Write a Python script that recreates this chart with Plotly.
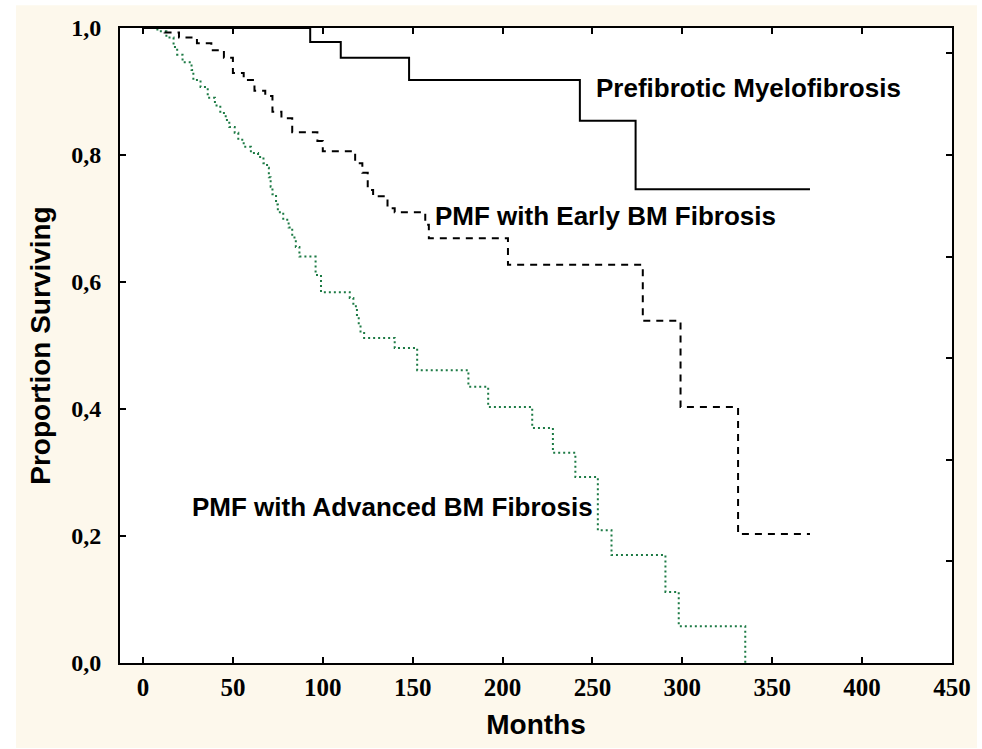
import plotly.graph_objects as go

# ---- data (months, proportion surviving after each step) ----
prefib_months = [0, 93, 110, 148, 243, 274, 371]
prefib_surv   = [1.0, 0.978, 0.953, 0.918, 0.854, 0.746, 0.746]

early_months = [0, 12, 20, 30, 38, 45, 50, 56, 62, 68, 72, 77, 83, 97, 100,
                118, 122, 125, 128, 136, 140, 157, 159, 203, 278, 299, 331, 371]
early_surv   = [1.0, 0.993, 0.985, 0.976, 0.965, 0.953, 0.929, 0.918, 0.901, 0.893,
                0.868, 0.858, 0.836, 0.822, 0.806, 0.787, 0.772, 0.745, 0.735, 0.716,
                0.71, 0.69, 0.669, 0.627, 0.539, 0.403, 0.203, 0.203]

adv_months = [0, 8, 13, 17, 19, 22, 27, 28, 32, 36, 40, 43, 46, 48, 51, 53, 56, 60,
              64, 67, 69, 70, 71, 72, 74, 75, 78, 81, 83, 85, 87, 96, 99, 115, 117,
              119, 120, 121, 123, 140, 152.5, 181, 192, 216.5, 228, 240.5, 253, 260.6,
              290.6, 298, 335]
adv_surv   = [1.0, 0.995, 0.985, 0.97, 0.958, 0.946, 0.934, 0.918, 0.907, 0.89, 0.878,
              0.866, 0.855, 0.844, 0.835, 0.824, 0.813, 0.803, 0.797, 0.787, 0.78, 0.765,
              0.75, 0.738, 0.722, 0.71, 0.698, 0.686, 0.67, 0.655, 0.64, 0.611, 0.584,
              0.575, 0.562, 0.548, 0.535, 0.522, 0.512, 0.496, 0.461, 0.435, 0.403, 0.37,
              0.331, 0.293, 0.209, 0.17, 0.112, 0.058, 0.0]

x_ticks = [0, 50, 100, 150, 200, 250, 300, 350, 400, 450]
y_ticks = [0.0, 0.2, 0.4, 0.6, 0.8, 1.0]

labels = ["Prefibrotic Myelofibrosis", "PMF with Early BM Fibrosis",
          "PMF with Advanced BM Fibrosis"]
label_x = [250.6, 161.5, 26.2]
label_y = [0.906, 0.704, 0.246]

cream = "#fdf8ec"

fig = go.Figure()
fig.add_trace(go.Scatter(x=adv_months, y=adv_surv, mode="lines", line_shape="hv",
                         line=dict(color="#1c7a44", width=2, dash="2px,3px"),
                         showlegend=False, hoverinfo="skip"))
fig.add_trace(go.Scatter(x=early_months, y=early_surv, mode="lines", line_shape="hv",
                         line=dict(color="black", width=2, dash="7px,6px"),
                         showlegend=False, hoverinfo="skip"))
fig.add_trace(go.Scatter(x=prefib_months, y=prefib_surv, mode="lines", line_shape="hv",
                         line=dict(color="black", width=2),
                         showlegend=False, hoverinfo="skip"))
# invisible trace so the right-hand tick axis is drawn
fig.add_trace(go.Scatter(x=[None], y=[None], yaxis="y2", showlegend=False,
                         hoverinfo="skip"))

for t, lx, ly in zip(labels, label_x, label_y):
    fig.add_annotation(x=lx, y=ly, text=t, showarrow=False, xanchor="left",
                       yanchor="middle",
                       font=dict(family="Liberation Sans", size=26, color="black",
                                 weight="bold"))

# cream page panel, then white plotting area on top of it
fig.add_shape(type="rect", xref="paper", yref="paper",
              x0=-0.125, x1=1.03, y0=-0.134, y1=1.036,
              fillcolor=cream, line=dict(width=0), layer="below")
fig.add_shape(type="rect", xref="paper", yref="paper",
              x0=0, x1=1, y0=0, y1=1,
              fillcolor="white", line=dict(width=0), layer="below")

fig.update_layout(
    width=982, height=749,
    margin=dict(l=120, r=30, t=28, b=86),
    paper_bgcolor="white", plot_bgcolor="white",
    separators=", ",
    xaxis=dict(range=[-12.8, 450], tickvals=x_ticks, showgrid=False, zeroline=False,
               showline=True, linecolor="black", linewidth=2, mirror="ticks",
               ticks="inside", ticklen=6, tickwidth=2, tickcolor="black",
               ticklabelstandoff=1,
               tickfont=dict(family="Liberation Serif", size=25, color="black",
                             weight="bold"),
               title=dict(text="Months", standoff=14,
                          font=dict(family="Liberation Sans", size=28, color="black",
                                    weight="bold"))),
    yaxis=dict(range=[0, 1], tickvals=y_ticks, tickformat=".1f", showgrid=False,
               zeroline=False, showline=True, linecolor="black", linewidth=2,
               mirror=True, ticks="inside", ticklen=6, tickwidth=2,
               tickcolor="black", ticklabelstandoff=12,
               tickfont=dict(family="Liberation Serif", size=24, color="black",
                             weight="bold"),
               title=dict(text="Proportion Surviving", standoff=12,
                          font=dict(family="Liberation Sans", size=28, color="black",
                                    weight="bold"))),
    yaxis2=dict(overlaying="y", side="right", anchor="x", range=[0, 6.25], dtick=1,
                showticklabels=False, showgrid=False, zeroline=False, showline=False,
                ticks="inside", ticklen=6, tickwidth=2, tickcolor="black"),
)

fig.write_html("out.html")
